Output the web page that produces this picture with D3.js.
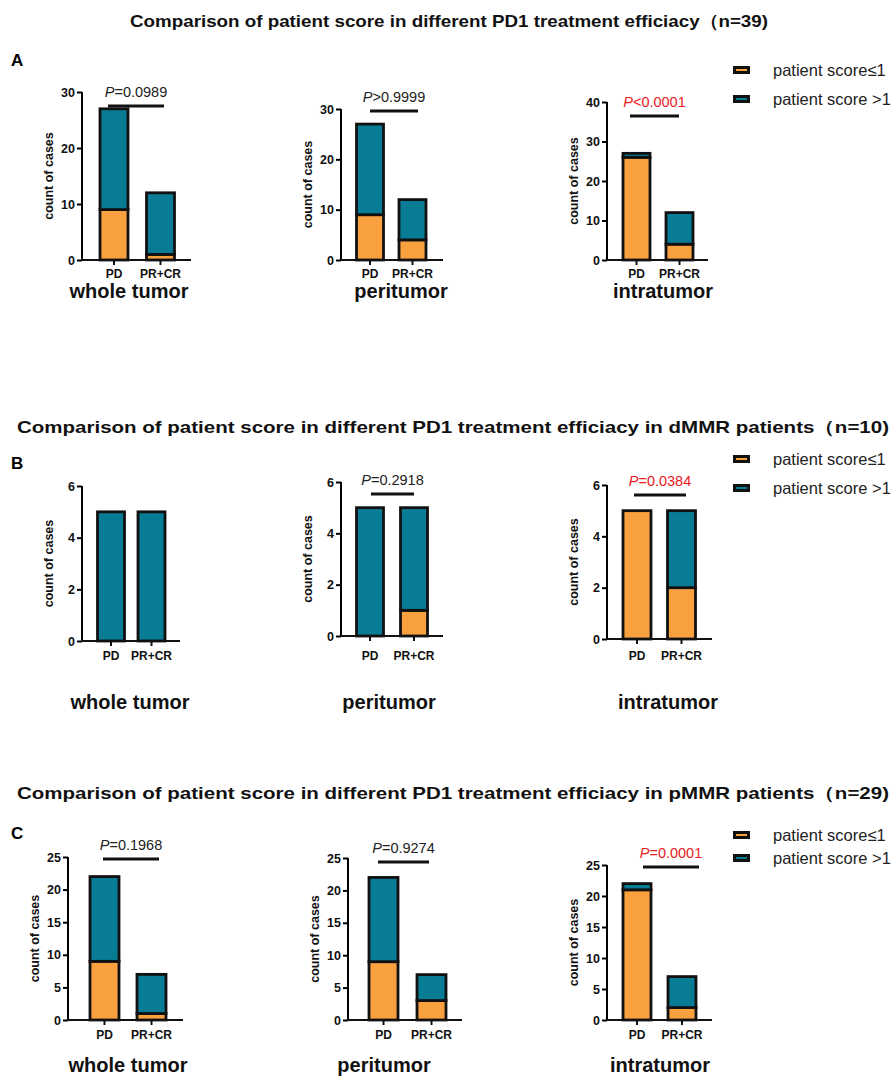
<!DOCTYPE html>
<html><head><meta charset="utf-8">
<script src="https://cdn.jsdelivr.net/npm/d3@7"></script>
<style>body{margin:0;background:#fff}svg{display:block}text{font-family:"Liberation Sans",Arial,sans-serif}</style>
</head><body>
<script>
// ---------- DATA ----------
const categories = ["PD", "PR+CR"];
const regions = ["whole tumor", "peritumor", "intratumor"];
const seriesNames = ["patient score≤1", "patient score >1"];
const panelTitles = [
  "Comparison of patient score in different PD1 treatment efficiacy（n=39)",
  "Comparison of patient score in different PD1 treatment efficiacy in dMMR patients（n=10)",
  "Comparison of patient score in different PD1 treatment efficiacy in pMMR patients（n=29)"
];
const panelLetters = ["A", "B", "C"];
// counts [PD, PR+CR] per region
const lowA  = [[9, 1], [9, 4], [26, 4]];
const highA = [[18, 11], [18, 8], [1, 8]];
const lowB  = [[0, 0], [0, 1], [5, 2]];
const highB = [[5, 5], [5, 4], [0, 3]];
const lowC  = [[9, 1], [9, 3], [21, 2]];
const highC = [[13, 6], [13, 4], [1, 5]];
const pTextA = ["=0.0989", ">0.9999", "<0.0001"];
const pTextB = [null, "=0.2918", "=0.0384"];
const pTextC = ["=0.1968", "=0.9274", "=0.0001"];
const pSigA = [false, false, true];
const pSigB = [false, false, true];
const pSigC = [false, false, true];
const yTicksA = [[0, 10, 20, 30], [0, 10, 20, 30], [0, 10, 20, 30, 40]];
const yTicksB = [[0, 2, 4, 6], [0, 2, 4, 6], [0, 2, 4, 6]];
const yTicksC = [[0, 5, 10, 15, 20, 25], [0, 5, 10, 15, 20, 25], [0, 5, 10, 15, 20, 25]];

// ---------- STYLE / LAYOUT ----------
const colors = ["#F9A03F", "#097C95"];
const W = 895, H = 1076;
const svg = d3.select("body").append("svg").attr("width", W).attr("height", H);

const panels = [
  { low: lowA, high: highA, pt: pTextA, sig: pSigA, ticks: yTicksA,
    title: { y: 27, x: 449, len: 638 }, letter: { x: 11, y: 66 },
    legend: { x: 733, ys: [70, 99] }, sub: { y: 298, xs: [129, 401, 663] }, catY: 278,
    charts: [
      { ax: 82, ae: 191, y0: 260, yt: 92, c: [114, 160.5], bw: 28, pl: [108, 164], py: 106 },
      { ax: 341, ae: 443, y0: 260, yt: 109, c: [370, 412.5], bw: 27, pl: [370, 418], py: 111 },
      { ax: 607, ae: 708, y0: 260, yt: 102, c: [636.5, 679.5], bw: 27, pl: [630, 679], py: 116 }
    ] },
  { low: lowB, high: highB, pt: pTextB, sig: pSigB, ticks: yTicksB,
    title: { y: 433, x: 453, len: 872 }, letter: { x: 11, y: 469 },
    legend: { x: 733, ys: [459, 488] }, sub: { y: 709, xs: [130, 389, 668] }, catY: 660,
    charts: [
      { ax: 82, ae: 180, y0: 641, yt: 486, c: [111, 151.5], bw: 27 },
      { ax: 341, ae: 443, y0: 636, yt: 482, c: [370, 414], bw: 27, pl: [371, 414], py: 494 },
      { ax: 607, ae: 712, y0: 639, yt: 485, c: [637, 681.5], bw: 28, pl: [634, 686], py: 495 }
    ] },
  { low: lowC, high: highC, pt: pTextC, sig: pSigC, ticks: yTicksC,
    title: { y: 799, x: 453, len: 872 }, letter: { x: 11, y: 839 },
    legend: { x: 733, ys: [835, 858] }, sub: { y: 1072, xs: [128, 384, 660] }, catY: 1039,
    charts: [
      { ax: 68, ae: 183, y0: 1020, yt: 857, c: [104.5, 151.5], bw: 29, pl: [103, 159], py: 859 },
      { ax: 348, ae: 462, y0: 1020, yt: 858, c: [383.5, 431.5], bw: 29, pl: [378, 429], py: 862 },
      { ax: 607, ae: 712, y0: 1020, yt: 865, c: [637, 682], bw: 28, pl: [643, 699], py: 867 }
    ] }
];

panels.forEach((P, pi) => {
  svg.append("text").attr("x", P.title.x).attr("y", P.title.y).attr("text-anchor", "middle")
    .attr("font-size", 17).attr("font-weight", "bold").attr("fill", "#111")
    .attr("textLength", P.title.len).attr("lengthAdjust", "spacingAndGlyphs")
    .text(panelTitles[pi]);
  svg.append("text").attr("x", P.letter.x).attr("y", P.letter.y)
    .attr("font-size", 17).attr("font-weight", "bold").text(panelLetters[pi]);

  // legend
  const lg = svg.append("g");
  seriesNames.forEach((name, i) => {
    const yy = P.legend.ys[i];
    lg.append("rect").attr("x", P.legend.x).attr("y", yy - 4).attr("width", 17).attr("height", 8).attr("fill", "#111");
    lg.append("rect").attr("x", P.legend.x + 3).attr("y", yy - 1).attr("width", 11).attr("height", 2).attr("fill", colors[i]);
    lg.append("text").attr("x", P.legend.x + 40).attr("y", yy + 5.5).attr("font-size", 16.5).attr("fill", "#222").text(name);
  });

  P.charts.forEach((C, ci) => {
    const g = svg.append("g");
    const ticks = P.ticks[ci];
    const ymax = ticks[ticks.length - 1];
    const y = d3.scaleLinear().domain([0, ymax]).range([C.y0, C.yt]);
    const x = d3.scalePoint().domain(categories).range(C.c);

    const rows = categories.map((cat, k) => ({ cat, low: P.low[ci][k], high: P.high[ci][k] }));
    const stacked = d3.stack().keys(["low", "high"])(rows);

    stacked.forEach((layer, li) => {
      g.selectAll(null).data(layer.filter(d => d[1] > d[0])).enter().append("rect")
        .attr("x", d => x(d.data.cat) - C.bw / 2)
        .attr("width", C.bw)
        .attr("y", d => y(d[1]))
        .attr("height", d => y(d[0]) - y(d[1]))
        .attr("fill", colors[li]).attr("stroke", "#111").attr("stroke-width", 2.8);
    });

    // y axis
    const yAxis = d3.axisLeft(y).tickValues(ticks).tickSize(5).tickPadding(2).tickFormat(d3.format("d"));
    const ya = g.append("g").attr("transform", `translate(${C.ax},0)`).call(yAxis);
    ya.select(".domain").attr("stroke-width", 2).attr("d", `M0,${C.yt}V${C.y0}`);
    ya.selectAll(".tick line").attr("stroke-width", 2);
    ya.selectAll("text").attr("font-size", 12.5).attr("font-weight", "bold").attr("fill", "#111")
      .attr("font-family", '"Liberation Sans",Arial,sans-serif');

    // x axis
    g.append("line").attr("x1", C.ax - 1).attr("x2", C.ae).attr("y1", C.y0).attr("y2", C.y0)
      .attr("stroke", "#111").attr("stroke-width", 2);
    categories.forEach(cat => {
      g.append("line").attr("x1", x(cat)).attr("x2", x(cat)).attr("y1", C.y0).attr("y2", C.y0 + 5)
        .attr("stroke", "#111").attr("stroke-width", 2);
      g.append("text").attr("x", x(cat)).attr("y", P.catY).attr("text-anchor", "middle")
        .attr("font-size", 12).attr("font-weight", "bold").attr("fill", "#111").text(cat);
    });

    // y label
    g.append("text").attr("transform", `translate(${C.ax - 29},${(C.y0 + C.yt) / 2}) rotate(-90)`)
      .attr("text-anchor", "middle").attr("font-size", 12.5).attr("font-weight", "bold").attr("fill", "#111")
      .text("count of cases");

    // p-value
    const pt = P.pt[ci];
    if (pt) {
      g.append("line").attr("x1", C.pl[0]).attr("x2", C.pl[1]).attr("y1", C.py).attr("y2", C.py)
        .attr("stroke", "#111").attr("stroke-width", 3);
      const t = g.append("text").attr("x", (C.pl[0] + C.pl[1]) / 2).attr("y", C.py - 9)
        .attr("text-anchor", "middle").attr("font-size", 14.5)
        .attr("fill", P.sig[ci] ? "#E8201E" : "#222");
      t.append("tspan").attr("font-style", "italic").text("P");
      t.append("tspan").text(pt);
    }

    // subtitle
    svg.append("text").attr("x", P.sub.xs[ci]).attr("y", P.sub.y).attr("text-anchor", "middle")
      .attr("font-size", 20).attr("font-weight", "bold").attr("fill", "#111").text(regions[ci]);
  });
});
</script>
</body></html>
